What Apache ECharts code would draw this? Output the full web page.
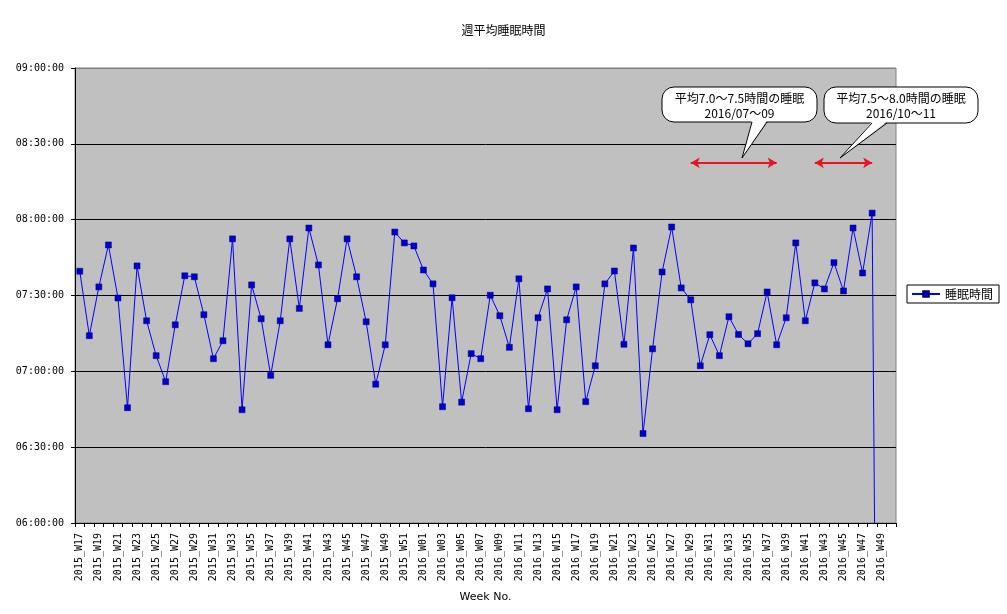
<!DOCTYPE html>
<html>
<head>
<meta charset="utf-8">
<script src="https://cdn.jsdelivr.net/npm/echarts@6/dist/echarts.min.js"></script>
<style>
html,body{margin:0;padding:0;background:#fff;}
#chart{width:1007px;height:614px;}
</style>
</head>
<body>
<div id="chart"></div>
<script>
// ---- data ----
const weeks2015 = ['2015_W17','2015_W18','2015_W19','2015_W20','2015_W21','2015_W22','2015_W23','2015_W24','2015_W25','2015_W26',
  '2015_W27','2015_W28','2015_W29','2015_W30','2015_W31','2015_W32','2015_W33','2015_W34','2015_W35','2015_W36',
  '2015_W37','2015_W38','2015_W39','2015_W40','2015_W41','2015_W42','2015_W43','2015_W44','2015_W45','2015_W46',
  '2015_W47','2015_W48','2015_W49','2015_W50','2015_W51','2015_W52'];
const weeks2016 = ['2016_W01','2016_W02','2016_W03','2016_W04','2016_W05','2016_W06','2016_W07','2016_W08','2016_W09','2016_W10',
  '2016_W11','2016_W12','2016_W13','2016_W14','2016_W15','2016_W16','2016_W17','2016_W18','2016_W19','2016_W20',
  '2016_W21','2016_W22','2016_W23','2016_W24','2016_W25','2016_W26','2016_W27','2016_W28','2016_W29','2016_W30',
  '2016_W31','2016_W32','2016_W33','2016_W34','2016_W35','2016_W36','2016_W37','2016_W38','2016_W39','2016_W40',
  '2016_W41','2016_W42','2016_W43','2016_W44','2016_W45','2016_W46','2016_W47','2016_W48','2016_W49','2016_W50'];
const sleep2015 = ['7:39:36','7:14:06','7:33:24','7:50:00','7:29:00','6:45:36','7:41:42','7:20:00','7:06:12','6:55:54',
  '7:18:24','7:37:48','7:37:24','7:22:24','7:05:00','7:12:06','7:52:24','6:44:48','7:34:12','7:20:48',
  '6:58:24','7:20:00','7:52:24','7:24:54','7:56:42','7:42:06','7:10:30','7:28:42','7:52:24','7:37:24',
  '7:19:36','6:54:54','7:10:30','7:55:06','7:50:48','7:49:36'];
const sleep2016 = ['7:40:06','7:34:36','6:46:00','7:29:06','6:47:48','7:07:00','7:05:00','7:30:06','7:22:00','7:09:30',
  '7:36:36','6:45:12','7:21:12','7:32:36','6:44:48','7:20:24','7:33:24','6:48:00','7:02:12','7:34:36',
  '7:39:42','7:10:42','7:48:48','6:35:24','7:08:54','7:39:18','7:57:06','7:33:00','7:28:18','7:02:12',
  '7:14:30','7:06:12','7:21:36','7:14:36','7:10:54','7:14:54','7:31:24','7:10:30','7:21:12','7:50:48',
  '7:20:00','7:35:00','7:32:36','7:43:00','7:31:48','7:56:42','7:38:54','8:02:36','0:00:00',null];
const yTicks = ['06:00:00','06:30:00','07:00:00','07:30:00','08:00:00','08:30:00','09:00:00'];
const arrowRanges = [['2016_W29','2016_W38'],['2016_W42','2016_W48']];
const arrowLevel = '8:22:30';
const callouts = [
  {line1:'平均7.0～7.5時間の睡眠', line2:'2016/07～09'},
  {line1:'平均7.5～8.0時間の睡眠', line2:'2016/10～11'}
];
const seriesName = '睡眠時間';
const titleText = '週平均睡眠時間';
const xName = 'Week No.';

// ---- helpers ----
function toSec(s){ if(s===null) return null; const p=s.split(':').map(Number); return p[0]*3600+p[1]*60+(p[2]||0); }
function fmt(v){ const h=Math.floor(v/3600), m=Math.floor((v%3600)/60), s=Math.round(v%60);
  const z=n=>String(n).padStart(2,'0'); return z(h)+':'+z(m)+':'+z(s); }

const categories = weeks2015.concat(weeks2016);
const values = sleep2015.concat(sleep2016).map(toSec);
const yMin = toSec(yTicks[0]), yMax = toSec(yTicks[yTicks.length-1]);
const yInterval = toSec(yTicks[1]) - yMin;

const bubbleGeom = [
  {x:662,y:87,w:155,h:35,b1:752,b2:767,tx:742,ty:158},
  {x:824,y:87,w:154,h:36,b1:872,b2:887,tx:840,ty:158}
];
const graphics = [];
callouts.forEach((c,i)=>{
  const g = bubbleGeom[i];
  graphics.push({type:'rect', shape:{x:g.x,y:g.y,width:g.w,height:g.h,r:12},
    style:{fill:'#fff',stroke:'#000',lineWidth:1}, z:100});
  graphics.push({type:'polygon', shape:{points:[[g.b1,g.y+g.h-1.5],[g.tx,g.ty],[g.b2,g.y+g.h-1.5]]},
    style:{fill:'#fff',stroke:null}, z:101});
  graphics.push({type:'polyline', shape:{points:[[g.b1,g.y+g.h],[g.tx,g.ty],[g.b2,g.y+g.h]]},
    style:{fill:null,stroke:'#000',lineWidth:1}, z:102});
  graphics.push({type:'text', x:g.x+g.w/2, y:g.y+11, z:103,
    style:{text:c.line1, fill:'#000', font:'12px "Noto Sans CJK JP"', textAlign:'center', textVerticalAlign:'middle'}});
  graphics.push({type:'text', x:g.x+g.w/2, y:g.y+26, z:103,
    style:{text:c.line2, fill:'#000', font:'12px "Noto Sans CJK JP"', textAlign:'center', textVerticalAlign:'middle'}});
});

const chart = echarts.init(document.getElementById('chart'), null, {renderer:'canvas'});
chart.setOption({
  animation:false,
  backgroundColor:'#fff',
  title:{text:titleText, left:'center', top:19,
    textStyle:{fontSize:12, fontWeight:'normal', color:'#000', fontFamily:'Noto Sans CJK JP'}},
  legend:{data:[seriesName], left:907, top:285, orient:'vertical',
    backgroundColor:'#fff', borderColor:'#000', borderWidth:1, padding:[3,6,3,4],
    itemWidth:28, itemHeight:7,
    textStyle:{fontSize:12, color:'#000', fontFamily:'Noto Sans CJK JP'}},
  grid:{left:75, right:111, top:68, bottom:91, show:true, backgroundColor:'#C0C0C0', borderColor:'#808080', borderWidth:1},
  xAxis:{type:'category', data:categories, boundaryGap:true,
    name:xName, nameLocation:'middle', nameGap:69,
    nameTextStyle:{fontSize:11, color:'#000', fontFamily:'DejaVu Sans'},
    axisLine:{lineStyle:{color:'#000', width:1}},
    axisTick:{show:true, interval:0, length:4, lineStyle:{color:'#000'}},
    axisLabel:{interval:1, rotate:90, margin:10, fontSize:10, color:'#000', fontFamily:'DejaVu Sans Mono'},
    splitLine:{show:false}},
  yAxis:{type:'value', min:yMin, max:yMax, interval:yInterval,
    axisLine:{show:true, lineStyle:{color:'#000', width:1}},
    axisTick:{show:true, length:4, lineStyle:{color:'#000'}},
    axisLabel:{formatter:fmt, fontSize:10, color:'#000', fontFamily:'DejaVu Sans Mono', margin:11},
    splitLine:{show:true, lineStyle:{color:['#000','#000','#000','#000','#000','#000','#808080'], width:1}}},
  series:[{
    name:seriesName, type:'line', data:values, clip:true,
    symbol:'rect', symbolSize:6, showAllSymbol:true, connectNulls:false,
    lineStyle:{color:'#0000FF', width:1},
    itemStyle:{color:'#0000CC', borderColor:'#000080', borderWidth:0.5},
    emphasis:{disabled:true},
    markLine:{silent:true, symbol:['arrow','arrow'], symbolSize:[8,9],
      label:{show:false},
      lineStyle:{color:'#E8141E', width:2, type:'solid'},
      emphasis:{disabled:true},
      data: arrowRanges.map(r=>[{coord:[r[0], toSec(arrowLevel)]},{coord:[r[1], toSec(arrowLevel)]}])}
  }],
  graphic:graphics
});
</script>
</body>
</html>
